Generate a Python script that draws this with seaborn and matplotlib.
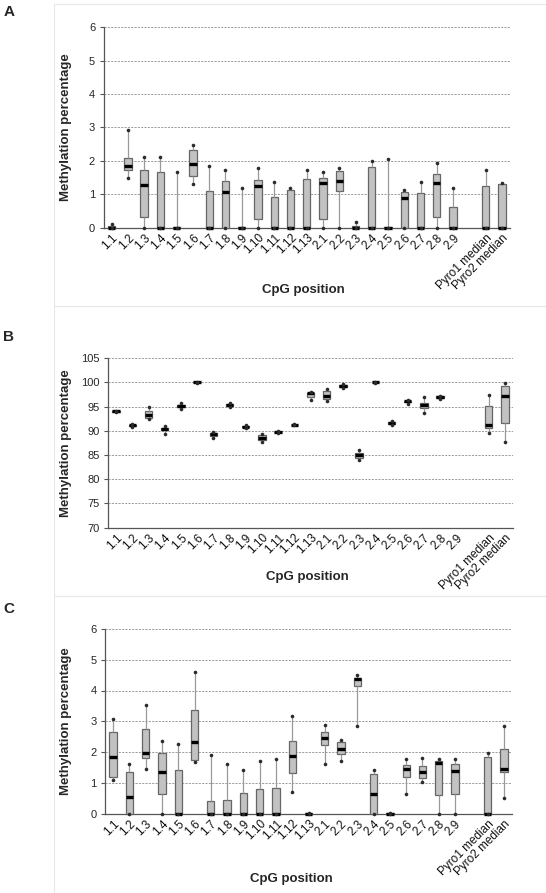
import numpy as np
import pandas as pd
import matplotlib
matplotlib.use("Agg")
import matplotlib.pyplot as plt
from matplotlib.patches import Rectangle
import seaborn as sns

positions = ["1.1", "1.2", "1.3", "1.4", "1.5", "1.6", "1.7", "1.8", "1.9", "1.10",
             "1.11", "1.12", "1.13", "2.1", "2.2", "2.3", "2.4", "2.5", "2.6", "2.7",
             "2.8", "2.9", "Pyro1 median", "Pyro2 median"]
# empty slot between 2.9 and the pyro medians
order = positions[:22] + [" "] + positions[22:]

nan = np.nan

# panel A
a_min = [0, 1.47, 0, 0, 0, 1.30, 0, 0, 0, 0, 0, 0, 0, 0, 0, 0, 0, 0, 0, 0, 0, 0, 0, 0]
a_q1 = [0, 1.73, 0.30, 0, 0, 1.55, 0, 0, 0, 0.25, 0, 0, 0, 0.25, 1.09, 0, 0, 0, 0, 0, 0.30, 0, 0, 0]
a_med = [0, 1.85, 1.28, 0, 0, 1.91, 0, 1.07, 0, 1.25, 0, 0, 0, 1.32, 1.38, 0, 0, 0, 0.87, 0, 1.32, 0, 0, 0]
a_q3 = [0.03, 2.08, 1.73, 1.65, 0.02, 2.32, 1.09, 1.38, 0.02, 1.41, 0.90, 1.11, 1.44, 1.49, 1.69,
        0.03, 1.80, 0.02, 1.05, 1.04, 1.59, 0.60, 1.23, 1.31]
a_max = [0.10, 2.92, 2.10, 2.10, 1.67, 2.47, 1.84, 1.72, 1.19, 1.79, 1.35, 1.19, 1.73, 1.67, 1.79,
         0.16, 2.00, 2.05, 1.12, 1.35, 1.94, 1.19, 1.73, 1.33]

# panel B
b_min = [93.8, 90.8, 92.5, 89.3, 94.5, 99.9, 88.5, 95.0, 90.5, 87.6, 89.6, 91.1, 96.4, 96.2, 98.9,
         84.0, 99.9, 91.3, 95.6, 93.75, 96.6, nan, 89.5, 87.6]
b_q1 = [93.9, 91.0, 92.6, 90.2, 95.0, 100.0, 89.0, 95.2, 90.7, 88.1, 89.7, 91.2, 96.9, 96.5, 99.1,
        84.3, 100.0, 91.5, 95.9, 94.7, 96.85, nan, 90.5, 91.7]
b_med = [94.0, 91.1, 93.2, 90.4, 95.2, 100.0, 89.3, 95.35, 90.8, 88.6, 89.75, 91.25, 97.8, 97.2, 99.3,
         84.9, 100.0, 91.6, 96.1, 95.3, 97.0, nan, 91.25, 97.3]
b_q3 = [94.05, 91.3, 94.1, 90.6, 95.4, 100.0, 89.6, 95.5, 91.0, 89.1, 89.8, 91.3, 97.9, 98.3, 99.4,
        85.4, 100.0, 91.75, 96.2, 95.8, 97.1, nan, 95.1, 99.3]
b_max = [94.1, 91.5, 94.9, 90.9, 95.8, 100.05, 89.8, 95.7, 91.3, 89.4, 89.9, 91.4, 98.0, 98.6, 99.7,
         86.0, 100.05, 91.95, 96.45, 97.0, 97.2, nan, 97.4, 99.8]

# panel C
c_min = [1.10, 0, 1.44, 0, 0, 1.68, 0, 0, 0, 0, 0, 0.71, 0, 1.61, 1.72, 2.86, 0, 0, 0.62, 1.01,
         0, 0, 0, 0.52]
c_q1 = [1.19, 0, 1.79, 0.64, 0, 1.75, 0, 0, 0, 0, 0, 1.33, 0, 2.23, 1.94, 4.14, 0, 0, 1.19, 1.16,
        0.61, 0.63, 0, 1.35]
c_med = [1.85, 0.55, 1.98, 1.36, 0, 2.31, 0, 0, 0, 0, 0, 1.86, 0, 2.44, 2.09, 4.36, 0.65, 0, 1.45,
         1.35, 1.64, 1.38, 0, 1.45]
c_q3 = [2.65, 1.34, 2.76, 1.97, 1.41, 3.35, 0.41, 0.45, 0.67, 0.80, 0.82, 2.35, 0.02, 2.66, 2.31,
        4.40, 1.29, 0.02, 1.59, 1.54, 1.70, 1.62, 1.85, 2.09]
c_max = [3.08, 1.62, 3.52, 2.36, 2.25, 4.60, 1.90, 1.60, 1.41, 1.72, 1.78, 3.17, 0.03, 2.89, 2.39,
         4.49, 1.42, 0.03, 1.76, 1.81, 1.78, 1.76, 1.96, 2.83]

sns.set_theme(style="white")
plt.rcParams['font.family'] = ['Liberation Sans', 'DejaVu Sans']

W, H = 546, 893
fig = plt.figure(figsize=(W / 100, H / 100), dpi=100)


def fx(px):
    return px / W


def fy(py):
    return 1 - py / H


def five_num(mn, q1, med, q3, mx):
    # five values per position -> box stats come out exactly as given
    vals = np.column_stack([mn, q1, med, q3, mx]).ravel()
    df = pd.DataFrame({"pos": np.repeat(positions, 5), "value": vals})
    return df.dropna()


def ends(mn, mx):
    df = pd.DataFrame({"pos": positions * 2, "value": list(mn) + list(mx)})
    return df.dropna()


panels = [
    dict(letter="A", stats=(a_min, a_q1, a_med, a_q3, a_max), ax=(103.5, 27.3, 510, 227.5),
         ylim=(0, 6), yticks=np.arange(0, 7, 1), frame=(4, 306), letter_y=12, xlab=(303, 290)),
    dict(letter="B", stats=(b_min, b_q1, b_med, b_q3, b_max), ax=(108, 358.3, 513, 527.5),
         ylim=(70, 105), yticks=np.arange(70, 106, 5), frame=(306, 596), letter_y=337, xlab=(307, 577)),
    dict(letter="C", stats=(c_min, c_q1, c_med, c_q3, c_max), ax=(105, 629, 512, 813.5),
         ylim=(0, 6), yticks=np.arange(0, 7, 1), frame=(596, 893), letter_y=609, xlab=(291, 879)),
]

for p in panels:
    x0, y0, x1, y1 = p["ax"]
    ax = fig.add_axes([fx(x0), fy(y1), fx(x1) - fx(x0), (y1 - y0) / H])

    fr0, fr1 = p["frame"]
    fig.add_artist(Rectangle((fx(54), fy(fr1)), 1 - fx(54) + 0.01, (fr1 - fr0) / H,
                             transform=fig.transFigure, fill=False, edgecolor="#e8e8e8", lw=0.8))

    mn, q1, med, q3, mx = p["stats"]
    sns.boxplot(data=five_num(mn, q1, med, q3, mx), x="pos", y="value", order=order,
                whis=(0, 100), width=0.45, color="#c2c2c2", saturation=1,
                linecolor="#666666", linewidth=0.9, showfliers=False,
                medianprops=dict(color="black", linewidth=2.4),
                whiskerprops=dict(color="#999999", linewidth=0.9),
                capprops=dict(visible=False), ax=ax)
    sns.stripplot(data=ends(mn, mx), x="pos", y="value", order=order, jitter=False,
                  color="#2b2b2b", size=2.6, linewidth=0, ax=ax, zorder=3)

    # zero medians sit on the axis line and should not be cut in half
    for art in ax.lines + ax.patches + ax.collections:
        art.set_clip_on(False)

    ax.set_ylim(*p["ylim"])
    ax.set_yticks(p["yticks"])
    ax.set_xlim(-0.5, len(order) - 0.5)
    ax.yaxis.grid(True, linestyle=(0, (2.5, 1.5)), color="#8c8c8c", linewidth=0.6)
    ax.set_axisbelow(True)
    for s in ["top", "right"]:
        ax.spines[s].set_visible(False)
    for s in ["left", "bottom"]:
        ax.spines[s].set_color("#555555")
        ax.spines[s].set_linewidth(0.9)
        ax.spines[s].set_zorder(0.5)

    ax.set_xticks(range(len(order)))
    ax.set_xticklabels(order, rotation=45, ha="right", va="top", rotation_mode="anchor",
                       fontsize=8.5, color="#111111")
    ax.set_xticks(np.arange(-0.5, len(order), 1), minor=True)
    ax.tick_params(axis="x", which="major", length=0, pad=3)
    ax.tick_params(axis="x", which="minor", length=3, color="#555555", width=0.8)
    ax.tick_params(axis="y", length=3, color="#555555", width=0.8, labelsize=8, pad=3,
                   left=True)
    ax.set_xlabel("")
    ax.set_ylabel("")

    fig.text(fx(66), fy((y0 + y1) / 2), "Methylation percentage", rotation=90,
             ha="center", va="center", fontsize=9.5, fontweight="bold")
    fig.text(fx(p["xlab"][0]), fy(p["xlab"][1]), "CpG position", ha="center", va="center",
             fontsize=9.5, fontweight="bold")
    fig.text(fx(9), fy(p["letter_y"]), p["letter"], ha="center", va="center",
             fontsize=11, fontweight="bold")

fig.savefig("out.png", dpi=100)
